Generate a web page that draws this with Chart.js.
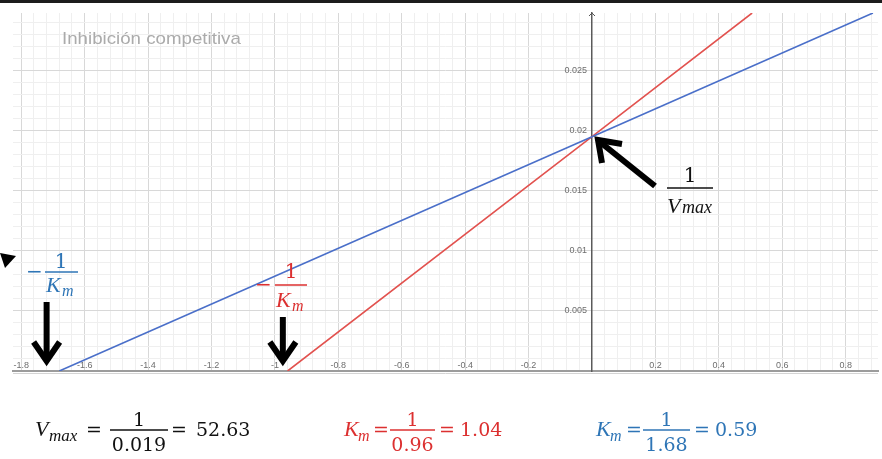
<!DOCTYPE html>
<html><head><meta charset="utf-8">
<script src="https://cdn.jsdelivr.net/npm/chart.js@4.4.0/dist/chart.umd.min.js"></script>
<style>html,body{margin:0;padding:0;background:#fff;overflow:hidden}canvas{display:block}</style>
</head><body>
<canvas id="c" width="882" height="459"></canvas>
<script>
// ---- data ----
const chartTitle = 'Inhibición competitiva';
const blueX = [-1.68, 0, 0.886];
const blueY = [0, 0.0195, 0.0298];
const redX = [-0.96, 0, 0.505];
const redY = [0, 0.0195, 0.0298];
const xTickLabels = ['-1.8','-1.6','-1.4','-1.2','-1','-0.8','-0.6','-0.4','-0.2','0.2','0.4','0.6','0.8'];
const yTickLabels = ['0.005','0.01','0.015','0.02','0.025'];
const xRange = [-1.826, 0.902];
const yRange = [0, 0.0298];
const xMinorStep = 0.04, xMajorStep = 0.2;
const yMinorStep = 0.001, yMajorStep = 0.005;

const BLUE_LINE = '#4a6fc9', RED_LINE = '#e2524f';
const BLUE_TXT = '#2e75b6', RED_TXT = '#dc3030';

function gridValues(lo, hi, step) {
  const out = [];
  const n0 = Math.ceil(lo / step - 1e-9), n1 = Math.floor(hi / step + 1e-9);
  for (let i = n0; i <= n1; i++) out.push(+(i * step).toFixed(6));
  return out;
}
function isMajor(v, step) { const r = v / step; return Math.abs(r - Math.round(r)) < 1e-6; }
function labelFor(v, labels) {
  const f = labels.find(l => Math.abs(Number(l) - v) < 1e-9);
  return f === undefined ? '' : f;
}

const xGrid = gridValues(xRange[0], xRange[1], xMinorStep);
const yGrid = gridValues(yRange[0] + yMinorStep, yRange[1], yMinorStep);

const SERIF = '"DejaVu Serif", serif';
const ITAL = '"Liberation Serif", "Times New Roman", serif';

const annotations = {
  id: 'annotations',
  afterDraw(chart) {
    const ctx = chart.ctx;
    const xs = chart.scales.x, ys = chart.scales.y;
    ctx.save();
    // light line under the x axis
    ctx.strokeStyle = '#d4d4d4'; ctx.lineWidth = 1;
    ctx.beginPath(); ctx.moveTo(chart.chartArea.left, ys.getPixelForValue(0) + 2.5);
    ctx.lineTo(chart.chartArea.right, ys.getPixelForValue(0) + 2.5); ctx.stroke();
    // y axis small arrow tip
    const x0 = xs.getPixelForValue(0), yt = chart.chartArea.top;
    ctx.strokeStyle = '#555'; ctx.lineWidth = 1;
    ctx.beginPath(); ctx.moveTo(x0 - 3, yt + 3); ctx.lineTo(x0, yt); ctx.lineTo(x0 + 3, yt + 3); ctx.stroke();

    // top dark band
    ctx.fillStyle = '#1c1c1c'; ctx.fillRect(0, 0, 882, 3);

    // title
    ctx.save();
    ctx.fillStyle = '#ababab';
    ctx.font = '17px "Liberation Sans", Arial, sans-serif';
    ctx.textBaseline = 'alphabetic';
    ctx.translate(62, 44); ctx.scale(1.1, 1);
    ctx.fillText(chartTitle, 0, 0);
    ctx.restore();

    function txt(s, x, y, font, color, align) {
      ctx.font = font; ctx.fillStyle = color; ctx.textAlign = align || 'left';
      ctx.textBaseline = 'alphabetic'; ctx.fillText(s, x, y);
    }
    function bar(x1, x2, y, color, w) {
      ctx.strokeStyle = color; ctx.lineWidth = w || 1.4;
      ctx.beginPath(); ctx.moveTo(x1, y); ctx.lineTo(x2, y); ctx.stroke();
    }
    // black arrows
    ctx.strokeStyle = '#000'; ctx.fillStyle = '#000'; ctx.lineWidth = 6;
    ctx.lineJoin = 'miter'; ctx.lineCap = 'butt';
    function downArrow(x, yTop, yTip) {
      ctx.beginPath(); ctx.moveTo(x, yTop); ctx.lineTo(x, yTip - 4); ctx.stroke();
      ctx.beginPath(); ctx.moveTo(x - 13, yTip - 22); ctx.lineTo(x, yTip - 3); ctx.lineTo(x + 13, yTip - 22); ctx.stroke();
    }
    downArrow(xs.getPixelForValue(-1.72), 302, 364);
    downArrow(xs.getPixelForValue(-0.975), 317, 364);
    // diagonal arrow to 1/Vmax
    ctx.beginPath(); ctx.moveTo(655, 186); ctx.lineTo(600, 142); ctx.stroke();
    ctx.beginPath(); ctx.moveTo(622, 144); ctx.lineTo(598, 140); ctx.lineTo(602, 163); ctx.stroke();
    // small cropped arrowhead at left edge
    ctx.beginPath(); ctx.moveTo(0, 253); ctx.lineTo(16, 256); ctx.lineTo(5, 268); ctx.closePath(); ctx.fill();

    // -1/Km blue label
    txt('\u2212', 26, 278, '20px ' + SERIF, BLUE_TXT);
    bar(45, 78, 272, BLUE_TXT, 1.5);
    txt('1', 61, 268, '20px ' + SERIF, BLUE_TXT, 'center');
    txt('K', 46, 292, 'italic 22px ' + ITAL, BLUE_TXT);
    txt('m', 62, 296, 'italic 16px ' + ITAL, BLUE_TXT);
    // -1/Km red label
    txt('\u2212', 255, 291, '20px ' + SERIF, RED_TXT);
    bar(275, 307, 285, RED_TXT, 1.5);
    txt('1', 291, 278, '20px ' + SERIF, RED_TXT, 'center');
    txt('K', 276, 307, 'italic 22px ' + ITAL, RED_TXT);
    txt('m', 292, 311, 'italic 16px ' + ITAL, RED_TXT);
    // 1/Vmax label
    txt('1', 690, 182, '20px ' + SERIF, '#111', 'center');
    bar(667, 713, 188, '#111', 1.5);
    txt('V', 667, 213, 'italic 22px ' + ITAL, '#111');
    txt('max', 682, 213, 'italic 18px ' + ITAL, '#111');

    // bottom formulas
    const NF = '19px ' + SERIF;
    // Vmax = 1/0.019 = 52.63
    txt('V', 35, 436, 'italic 22px ' + ITAL, '#111');
    txt('max', 49, 441, 'italic 17px ' + ITAL, '#111');
    txt('=', 86, 436, NF, '#111');
    bar(110, 168, 430, '#111', 1.3);
    txt('1', 139, 426, NF, '#111', 'center');
    txt('0.019', 139, 451, NF, '#111', 'center');
    txt('=', 171, 436, NF, '#111');
    txt('52.63', 196, 436, NF, '#111');
    // Km = 1/0.96 = 1.04
    txt('K', 344, 436, 'italic 22px ' + ITAL, RED_TXT);
    txt('m', 358, 441, 'italic 16px ' + ITAL, RED_TXT);
    txt('=', 373, 436, NF, RED_TXT);
    bar(390, 435, 430, RED_TXT, 1.3);
    txt('1', 412.5, 426, NF, RED_TXT, 'center');
    txt('0.96', 412.5, 451, NF, RED_TXT, 'center');
    txt('=', 439, 436, NF, RED_TXT);
    txt('1.04', 460, 436, NF, RED_TXT);
    // Km = 1/1.68 = 0.59
    txt('K', 596, 436, 'italic 22px ' + ITAL, BLUE_TXT);
    txt('m', 610, 441, 'italic 16px ' + ITAL, BLUE_TXT);
    txt('=', 626, 436, NF, BLUE_TXT);
    bar(643, 690, 430, BLUE_TXT, 1.3);
    txt('1', 666.5, 426, NF, BLUE_TXT, 'center');
    txt('1.68', 666.5, 451, NF, BLUE_TXT, 'center');
    txt('=', 694, 436, NF, BLUE_TXT);
    txt('0.59', 715, 436, NF, BLUE_TXT);
    ctx.restore();
  }
};

const tickFont = { family: '"Liberation Sans", Arial, sans-serif', size: 9 };

new Chart(document.getElementById('c'), {
  type: 'scatter',
  data: {
    datasets: [
      { label: 'Sin inhibidor', data: blueX.map((x, i) => ({ x, y: blueY[i] })),
        showLine: true, borderColor: BLUE_LINE, borderWidth: 1.6, pointRadius: 0, fill: false },
      { label: 'Con inhibidor', data: redX.map((x, i) => ({ x, y: redY[i] })),
        showLine: true, borderColor: RED_LINE, borderWidth: 1.6, pointRadius: 0, fill: false }
    ]
  },
  options: {
    responsive: false,
    animation: false,
    devicePixelRatio: 1,
    layout: { padding: { left: 13, right: 4, top: 13, bottom: 88 } },
    plugins: { legend: { display: false }, tooltip: { enabled: false }, title: { display: false } },
    scales: {
      x: {
        type: 'linear', min: xRange[0], max: xRange[1], position: { y: 0 },
        afterBuildTicks: s => { s.ticks = xGrid.map(v => ({ value: v })); },
        afterFit: s => { s.height = 0; },
        grid: { color: c => isMajor(c.tick.value, xMajorStep) ? '#d8d8d8' : '#efefef', lineWidth: 1, drawTicks: false },
        border: { display: true, color: '#9c9c9c', width: 2 },
        ticks: { autoSkip: false, maxRotation: 0, padding: -11, font: tickFont, color: '#6e6e6e',
          callback: v => labelFor(v, xTickLabels) }
      },
      y: {
        type: 'linear', min: yRange[0], max: yRange[1], position: { x: 0 },
        afterBuildTicks: s => { s.ticks = yGrid.map(v => ({ value: v })); },
        afterFit: s => { s.width = 0; },
        grid: { color: c => isMajor(c.tick.value, yMajorStep) ? '#d8d8d8' : '#efefef', lineWidth: 1, drawTicks: false },
        border: { display: true, color: '#5a5a5a', width: 1.5 },
        ticks: { autoSkip: false, font: tickFont, color: '#6e6e6e',
          callback: v => { const l = labelFor(v, yTickLabels); return l ? l + '  ' : ''; } }
      }
    }
  },
  plugins: [annotations]
});
</script>
</body></html>
